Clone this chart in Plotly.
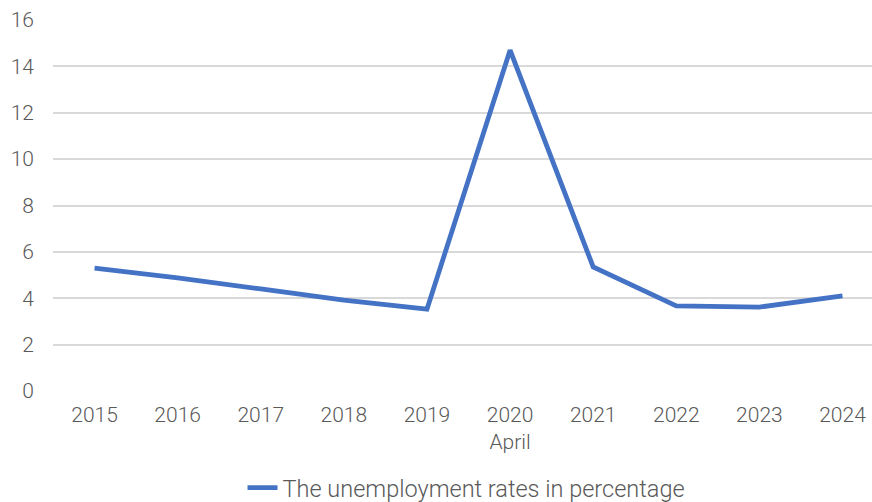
import plotly.graph_objects as go

categories = ["2015", "2016", "2017", "2018", "2019", "2020<br>April", "2021", "2022", "2023", "2024"]
rates = [5.3, 4.88, 4.4, 3.92, 3.53, 14.7, 5.35, 3.67, 3.62, 4.1]
series_name = "The unemployment rates in percentage"
y_ticks = [0, 2, 4, 6, 8, 10, 12, 14, 16]

font_family = "Roboto, sans-serif"
text_color = "#595959"

fig = go.Figure()
fig.add_trace(go.Scatter(
    x=list(range(len(categories))), y=rates, mode="lines", name=series_name,
    line=dict(color="#4472C4", width=4.8),
))
fig.update_layout(
    width=872, height=502,
    margin=dict(l=53, r=0, t=20, b=111, autoexpand=False),
    paper_bgcolor="white", plot_bgcolor="white",
    font=dict(family=font_family, size=21, color=text_color, weight=300),
    showlegend=True,
    legend=dict(orientation="h", xref="container", yref="container",
                x=0.535, xanchor="center", y=0.028, yanchor="middle",
                font=dict(size=23.5, color=text_color, weight=300)),
    xaxis=dict(
        range=[-0.5, 9.355], tickmode="array", tickvals=list(range(len(categories))),
        ticktext=categories, showgrid=False, zeroline=False, showline=False,
        ticks="", tickfont=dict(size=21, color=text_color, weight=300),
        ticklabelstandoff=9, automargin=False,
    ),
    yaxis=dict(
        range=[0, 16], tickvals=y_ticks, showgrid=True, gridcolor="#d9d9d9",
        gridwidth=1.5, zeroline=False, showline=False, ticks="",
        tickfont=dict(size=21, color=text_color, weight=300),
        ticklabelstandoff=18, automargin=False,
    ),
)
fig.write_html("out.html")
